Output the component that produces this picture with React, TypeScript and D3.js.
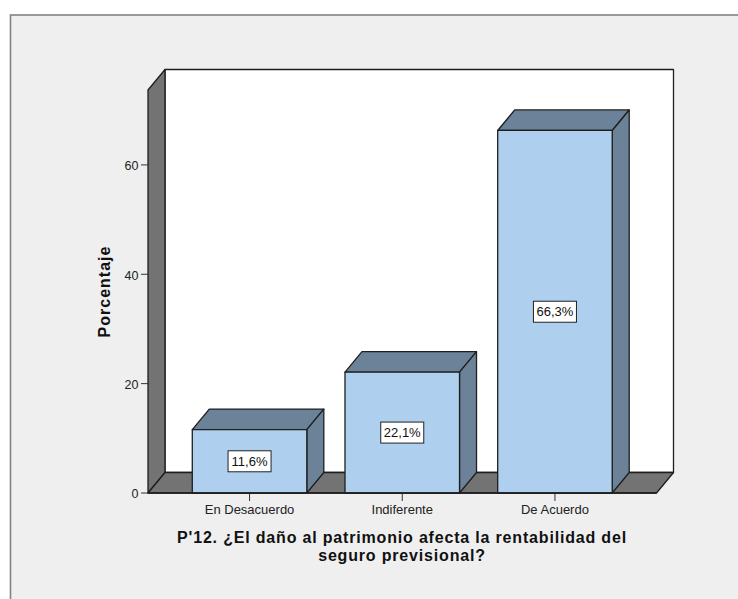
import React from "react";
import * as d3 from "d3";

const categories = ["En Desacuerdo", "Indiferente", "De Acuerdo"];
const percentages = [11.6, 22.1, 66.3];
const valueLabels = ["11,6%", "22,1%", "66,3%"];
const yTicks = [0, 20, 40, 60];
const xTitleLines = ["P'12. ¿El daño al patrimonio afecta la rentabilidad del", "seguro previsional?"];
const yTitle = "Porcentaje";

const FONT = "'Liberation Sans', Arial, sans-serif";
const DX = 17;
const DY = 20.5;
const BG = "#efefef";
const WALL = "#737373";
const FACE = "#aed0ee";
const SIDE = "#6b8299";
const LINE = "#1e1e1e";

const x = d3.scaleBand<string>().domain(categories).range([148, 656.5]).paddingInner(0.25).paddingOuter(0.29);
const y = d3.scaleLinear().domain([0, 73.7]).range([493, 90]);

const pts = (p: [number, number][]) => p.map((a) => a.join(",")).join(" ");

export default function App() {
  const [x0, x1] = x.range();
  const y0 = y(0);
  const yTop = y(73.7);
  const stroke = { stroke: LINE, strokeWidth: 1.3, strokeLinejoin: "round" as const };
  return (
    <svg width={738} height={599} style={{ position: "absolute", left: 0, top: 0, display: "block" }} fontFamily={FONT}>
      <rect x={0} y={0} width={738} height={599} fill="#ffffff" />
      <rect x={10.5} y={15} width={740} height={600} fill={BG} stroke="#828282" strokeWidth={1.6} />
      {/* back wall */}
      <rect x={x0 + DX} y={yTop - DY} width={x1 - x0} height={y0 - yTop} fill="#ffffff" {...stroke} />
      {/* left wall */}
      <polygon points={pts([[x0, yTop], [x0 + DX, yTop - DY], [x0 + DX, y0 - DY], [x0, y0]])} fill={WALL} {...stroke} />
      {/* floor */}
      <polygon points={pts([[x0, y0], [x0 + DX, y0 - DY], [x1 + DX, y0 - DY], [x1, y0]])} fill={WALL} {...stroke} />
      {/* y axis */}
      {yTicks.map((t) => (
        <g key={t}>
          <line x1={x0 - 7} x2={x0} y1={y(t)} y2={y(t)} stroke="#333" strokeWidth={1} />
          <text x={x0 - 9.5} y={y(t) + 1} dy="0.35em" textAnchor="end" fontSize={12.5} fill="#222">{t}</text>
        </g>
      ))}
      <text transform="translate(110,291.5) rotate(-90)" textAnchor="middle" fontSize={16} fontWeight="bold" letterSpacing={1} fill="#111">{yTitle}</text>
      {/* bars */}
      {categories.map((c, i) => {
        const l = x(c)!;
        const r = l + x.bandwidth();
        const t = y(percentages[i]);
        const cx = (l + r) / 2;
        const cy = (t + y0) / 2;
        return (
          <g key={c}>
            <polygon points={pts([[l, t], [l + DX, t - DY], [r + DX, t - DY], [r, t]])} fill={SIDE} {...stroke} />
            <polygon points={pts([[r, t], [r + DX, t - DY], [r + DX, y0 - DY], [r, y0]])} fill={SIDE} {...stroke} />
            <rect x={l} y={t} width={r - l} height={y0 - t} fill={FACE} {...stroke} />
            <rect x={cx - 21.5} y={cy - 10.5} width={43} height={21} fill="#ffffff" stroke="#222" strokeWidth={1} />
            <text x={cx} y={cy} dy="0.36em" textAnchor="middle" fontSize={13} fill="#111">{valueLabels[i]}</text>
            <line x1={cx} x2={cx} y1={y0} y2={y0 + 8} stroke="#333" strokeWidth={1} />
            <text x={cx} y={y0 + 21} textAnchor="middle" fontSize={13} fill="#222">{c}</text>
          </g>
        );
      })}
      <line x1={x0} x2={x1} y1={y0} y2={y0} stroke={LINE} strokeWidth={1.3} />
      {/* x title */}
      {xTitleLines.map((s, i) => (
        <text key={s} x={402} y={543 + i * 18} textAnchor="middle" fontSize={16} fontWeight="bold" letterSpacing={0.82} fill="#111">{s}</text>
      ))}
    </svg>
  );
}
